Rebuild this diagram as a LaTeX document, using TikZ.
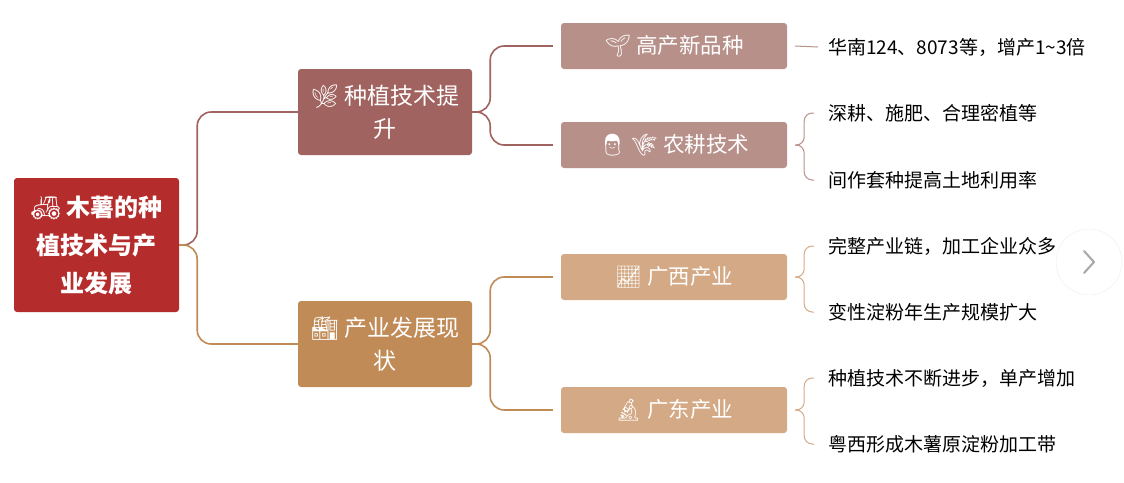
\documentclass[tikz,border=0pt]{standalone}
\usepackage{fontspec}
\setmainfont{Noto Sans CJK SC}
\newfontfamily\emo{Noto Emoji}
\usetikzlibrary{positioning}
\definecolor{rootred}{HTML}{B52C2C}
\definecolor{plantbr}{HTML}{A0635F}
\definecolor{plantlt}{HTML}{B8908A}
\definecolor{indubr}{HTML}{C08B57}
\definecolor{indult}{HTML}{D4A986}
\tikzset{
  box/.style={rounded corners=3pt, text=white, align=center, inner sep=0pt},
  leaf/.style={anchor=west, font=\fontsize{19}{22}\selectfont, inner sep=0pt},
  link/.style={line width=1.6pt, rounded corners=14pt},
  brace/.style={line width=1pt, rounded corners=8pt}
}
\begin{document}
\begin{tikzpicture}[x=1pt,y=-1pt]
\useasboundingbox (0,0) rectangle (1124,482);
% root and first level
\node[box, fill=rootred, minimum width=165, minimum height=134, font=\fontsize{24}{38}\selectfont\bfseries]
  (root) at (96.5,245) {{\emo 🚜} 木薯的种\\植技术与产\\业发展};
\node[box, fill=plantbr, minimum width=174, minimum height=86, font=\fontsize{23}{33}\selectfont]
  (plant) at (385,112) {{\emo 🌿} 种植技术提\\升};
\node[box, fill=indubr, minimum width=174, minimum height=86, font=\fontsize{23}{33}\selectfont]
  (indu) at (385,344) {{\emo 🏭} 产业发展现\\状};
% second level
\foreach \n/\c/\y/\t in {seed/plantlt/46/{{\emo 🌱} 高产新品种},
                         farm/plantlt/145/{{\emo 👨} {\emo 🌾} 农耕技术},
                         gx/indult/277/{{\emo 📈} 广西产业},
                         gd/indult/410/{{\emo 🔬} 广东产业}}
  \node[box, fill=\c, minimum width=226, minimum height=46, font=\fontsize{21.5}{26}\selectfont]
    (\n) at (674,\y) {\t};
% leaves
\node[leaf] (l1) at (828,47) {华南124、8073等，增产1\textasciitilde3倍};
\node[leaf] (l2) at (828,113) {深耕、施肥、合理密植等};
\node[leaf] (l3) at (828,180) {间作套种提高土地利用率};
\node[leaf] (l4) at (828,246) {完整产业链，加工企业众多};
\node[leaf] (l5) at (828,312) {变性淀粉年生产规模扩大};
\node[leaf] (l6) at (828,378) {种植技术不断进步，单产增加};
\node[leaf] (l7) at (828,444) {粤西形成木薯原淀粉加工带};
% connectors
\draw[link, plantbr] (root.east) -- ++(18,0) |- (plant.west);
\draw[link, indubr] (root.east) -- ++(18,0) |- (indu.west);
\draw[link, plantbr] (plant.east) -- ++(18,0) |- ([xshift=-8]seed.west);
\draw[link, plantbr] (plant.east) -- ++(18,0) |- ([xshift=-8]farm.west);
\draw[link, indubr] (indu.east) -- ++(18,0) |- ([xshift=-8]gx.west);
\draw[link, indubr] (indu.east) -- ++(18,0) |- ([xshift=-8]gd.west);
\draw[brace, plantlt] ([xshift=8]seed.east) -- ([xshift=-10]l1.west);
\foreach \p/\a/\b/\c in {farm/l2/l3/plantlt, gx/l4/l5/indult, gd/l6/l7/indult} {
  \draw[brace, \c] ([xshift=8]\p.east) -- ++(9,0) |- ([xshift=-14]\a.west);
  \draw[brace, \c] ([xshift=8]\p.east) -- ++(9,0) |- ([xshift=-14]\b.west);
}
% side button
\node[circle, draw=gray!15, fill=white, minimum size=66, inner sep=0pt] (btn) at (1089,262) {};
\draw[gray!70, line width=2pt, line cap=round, line join=round]
  ([xshift=-5,yshift=-11]btn.center) -- ([xshift=5]btn.center) -- ([xshift=-5,yshift=11]btn.center);
\end{tikzpicture}
\end{document}
